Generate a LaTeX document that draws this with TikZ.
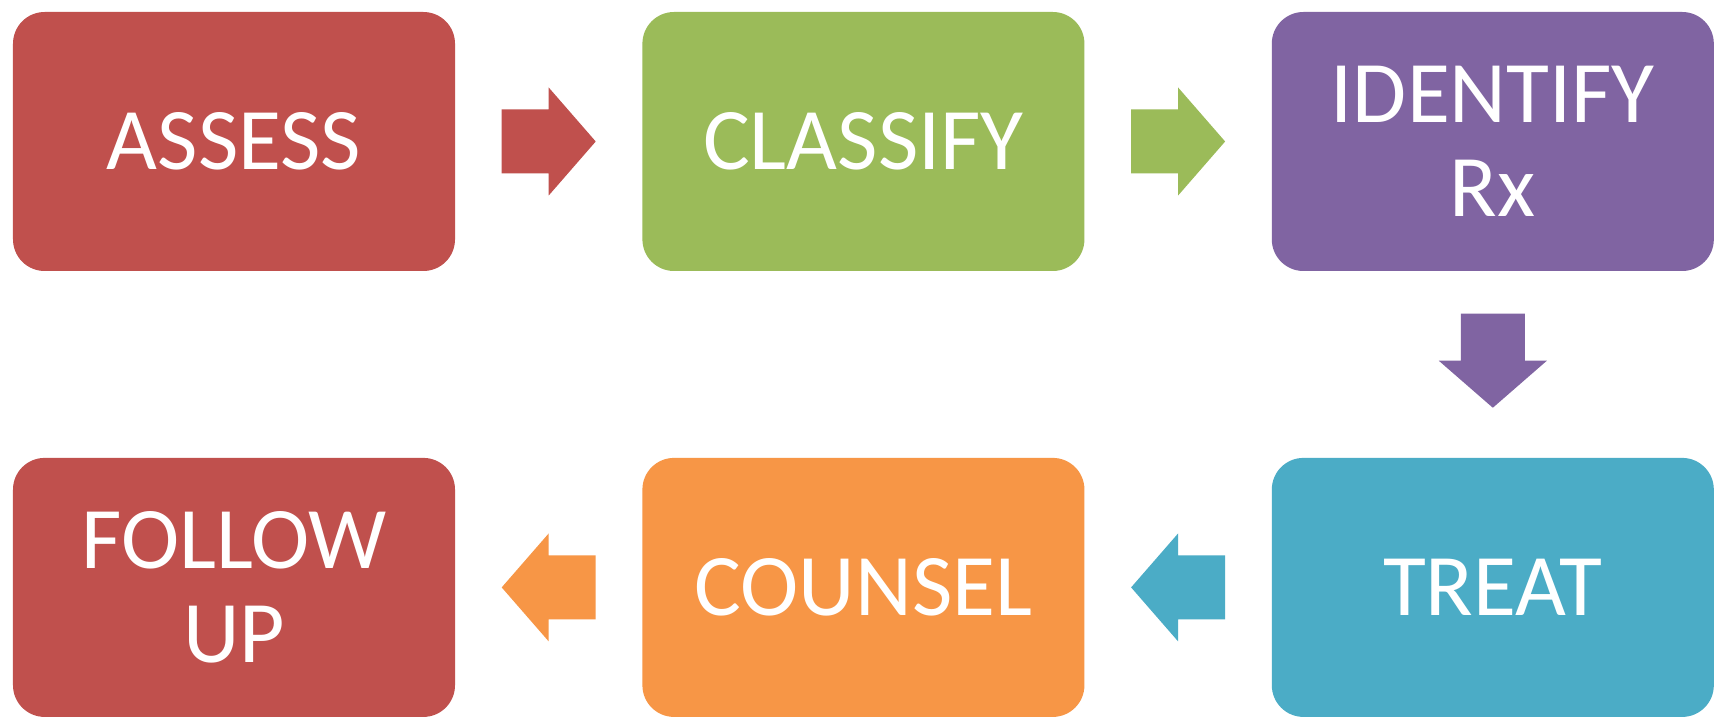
\documentclass[tikz,border=0pt]{standalone}
\usepackage{fontspec}
\setmainfont{Carlito}
\usepackage{tikz}
\usetikzlibrary{positioning, calc}
\definecolor{myred}{RGB}{192,80,77}
\definecolor{mygreen}{RGB}{155,187,89}
\definecolor{mypurple}{RGB}{128,100,162}
\definecolor{myblue}{RGB}{75,172,198}
\definecolor{myorange}{RGB}{247,150,70}
\tikzset{
  stepbox/.style={rectangle, rounded corners=9pt, draw=none,
    minimum width=4.42cm, minimum height=2.59cm, inner sep=0pt,
    align=center, text=white, font=\fontsize{25}{26.6}\selectfont},
  pics/flowarrow/.style={code={
    \fill (-0.47,-0.32) -- (0,-0.32) -- (0,-0.54) -- (0.47,0)
      -- (0,0.54) -- (0,0.32) -- (-0.47,0.32) -- cycle;
  }}
}

\begin{document}
\begin{tikzpicture}[node distance=1.86cm]
  \fill[white] (0,0) rectangle (17.15,-7.16);
  \useasboundingbox (0,0) rectangle (17.15,-7.16);

  % top row
  \node[stepbox, fill=myred] (assess) at (2.34,-1.415) {ASSESS};
  \node[stepbox, fill=mygreen, right=of assess] (classify) {CLASSIFY};
  \node[stepbox, fill=mypurple, right=of classify] (identify) {IDENTIFY\\Rx};

  % bottom row, running back to the left
  \node[stepbox, fill=myblue, below=1.855cm of identify] (treat) {TREAT};
  \node[stepbox, fill=myorange, left=of treat] (counsel) {COUNSEL};
  \node[stepbox, fill=myred, left=of counsel] (followup) {FOLLOW\\UP};

  % block arrows between the steps
  \pic[myred] at ($(assess.east)!0.5!(classify.west)$) {flowarrow};
  \pic[mygreen] at ($(classify.east)!0.5!(identify.west)$) {flowarrow};
  \pic[mypurple, rotate=-90] at ($(identify.south)!0.48!(treat.north)$) {flowarrow};
  \pic[myblue, rotate=180] at ($(treat.west)!0.5!(counsel.east)$) {flowarrow};
  \pic[myorange, rotate=180] at ($(counsel.west)!0.5!(followup.east)$) {flowarrow};
\end{tikzpicture}
\end{document}
